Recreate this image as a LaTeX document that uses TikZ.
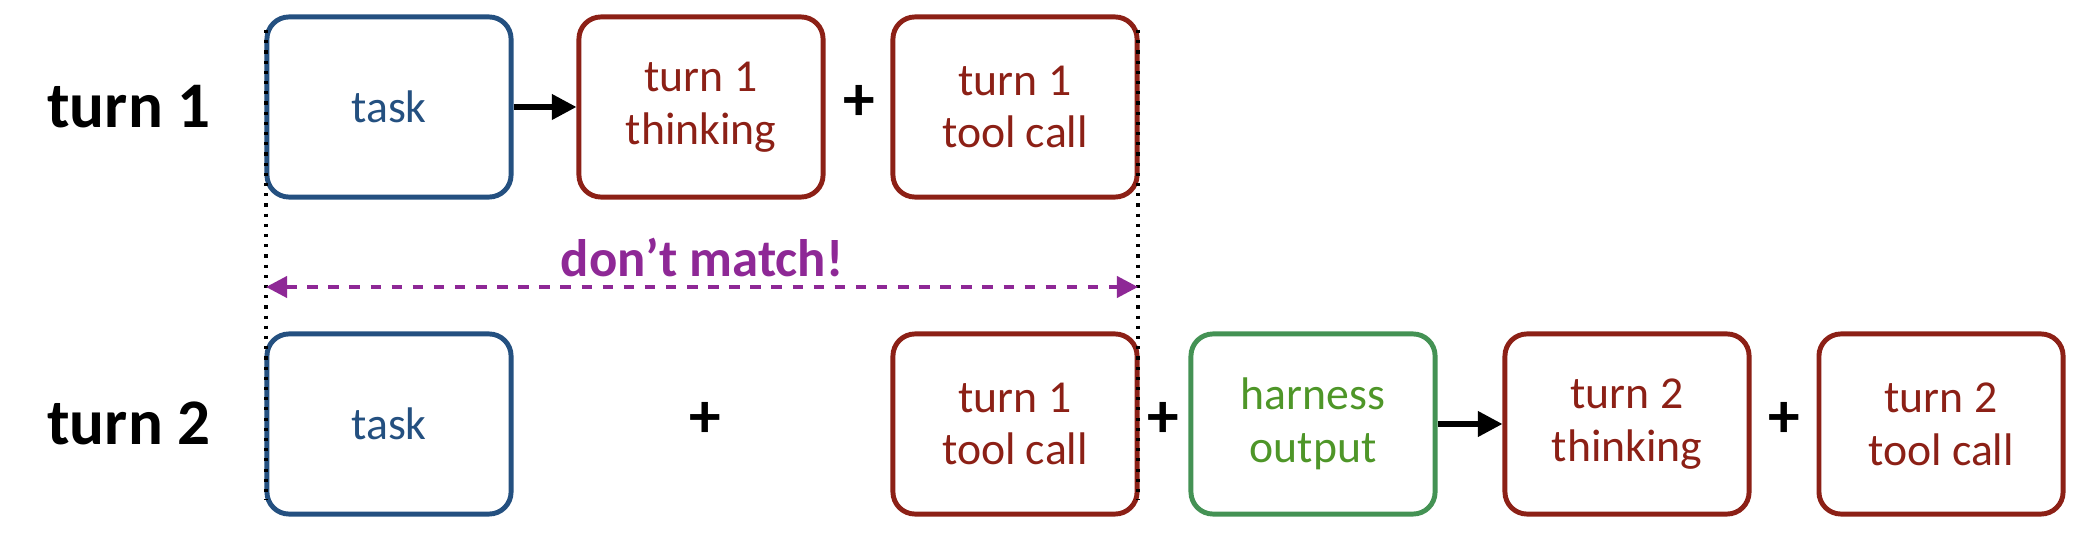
\documentclass[tikz,border=0pt]{standalone}
\usepackage{fontspec}
\setmainfont{Carlito}
\usetikzlibrary{arrows.meta}
\definecolor{bl}{RGB}{36,80,128}
\definecolor{rd}{RGB}{140,32,22}
\definecolor{gr}{RGB}{68,146,84}
\definecolor{grt}{RGB}{78,150,40}
\definecolor{pu}{RGB}{142,40,150}
\begin{document}
\begin{tikzpicture}[x=0.01cm,y=-0.01cm,
  bx/.style={draw=#1,line width=1.4pt,rounded corners=0.22cm,minimum width=2.44cm,minimum height=1.8cm,align=center,font=\fontsize{13}{15}\selectfont,inner sep=0pt},
  lbl/.style={font=\fontsize{18.5}{20}\selectfont\bfseries},
  pl/.style={font=\fontsize{18}{20}\selectfont\bfseries},
  arr/.style={-{Triangle[length=7pt,width=7pt]},line width=1.5pt}]
\useasboundingbox (0,0) rectangle (2086,534);
\node[lbl] (l1) at (129,107) {turn 1};
\node[lbl] (l2) at (129,423) {turn 2};
\node[bx=bl,text=bl] (t1) at (389,107) {task};
\node[bx=rd,text=rd] (th1) at (701,107) {turn 1\\thinking};
\node[bx=rd,text=rd] (tc1) at (1015,107) {turn 1\\tool call};
\node[pl] (p1) at (859,103) {+};
\node[bx=bl,text=bl] (t2) at (389,424) {task};
\node[pl] (p2) at (705,420) {+};
\node[bx=rd,text=rd] (tc2) at (1015,424) {turn 1\\tool call};
\node[pl] (p3) at (1163,420) {+};
\node[bx=gr,text=grt] (h) at (1313,424) {harness\\output};
\node[bx=rd,text=rd] (th2) at (1627,424) {turn 2\\thinking};
\node[pl] (p4) at (1784,420) {+};
\node[bx=rd,text=rd] (tc3) at (1941,424) {turn 2\\tool call};
\draw[arr] (t1.east) -- (th1.west);
\draw[arr] (h.east) -- (th2.west);
\coordinate (a1) at (266,30); \coordinate (a2) at (266,500);
\coordinate (b1) at (1138,30); \coordinate (b2) at (1138,500);
\draw[dotted,line width=0.9pt] (a1) -- (a2);
\draw[dotted,line width=0.9pt] (b1) -- (b2);
\coordinate (c1) at (266,287); \coordinate (c2) at (1138,287);
\draw[pu,dashed,line width=1.1pt,{Triangle[length=6pt,width=6pt]}-{Triangle[length=6pt,width=6pt]}] (c1) -- (c2);
\node[text=pu,font=\fontsize{15}{17}\selectfont\bfseries] (dm) at (702,258) {don’t match!};
\end{tikzpicture}
\end{document}
